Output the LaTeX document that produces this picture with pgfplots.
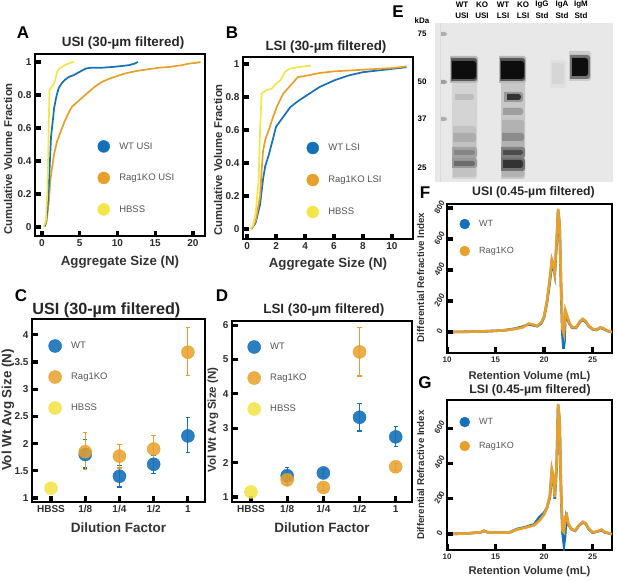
\documentclass[border=0pt]{standalone}
\usepackage{pgfplots}
\pgfplotsset{compat=1.18}
\usepackage{fontspec}
\setmainfont{Liberation Sans}
\definecolor{cblue}{RGB}{20,112,185}
\definecolor{corange}{RGB}{232,160,42}
\definecolor{cyellow}{RGB}{242,230,75}
\definecolor{tickgray}{RGB}{45,45,45}
\definecolor{leggray}{RGB}{85,85,85}
\pgfplotsset{
  panel/.style={
    scale only axis, anchor=south west,
    axis line style={line width=1.9pt, black},
    xtick pos=left, ytick pos=left, tick align=inside, major tick length=5pt,
    tick style={line width=3pt, black},
    ticklabel style={font=\bfseries\fontsize{10}{11}\selectfont, text=tickgray},
    every axis title/.style={anchor=center, font=\bfseries\fontsize{13.4}{15}\selectfont, text=black!85},
    every axis x label/.style={anchor=center, font=\bfseries\fontsize{13.3}{15}\selectfont, text=black!80},
    every axis y label/.style={anchor=center, rotate=90, font=\bfseries\fontsize{11.3}{13}\selectfont, text=black!80},
    legend cell align=left,
    legend style={draw=none, fill=none, anchor=west, inner sep=0pt, nodes={inner sep=0pt},
      font=\fontsize{9.5}{11}\selectfont, text=leggray,
      /tikz/every odd column/.append style={column sep=9.5pt}},
  },
  stub/.style={black, line width=3.2pt, forget plot, unbounded coords=jump},
}
\newcommand{\blob}[5]{\addplot[draw=none, fill=#5, rounded corners=2.5pt] coordinates {(#1,#3) (#2,#3) (#2,#4) (#1,#4)};}
\begin{document}
\begin{tikzpicture}
\path[use as bounding box] (0pt,0pt) rectangle (617pt,580pt);
% ---------------- A
\begin{axis}[panel, at={(35pt,344pt)}, width=170pt, height=182pt,
 xmin=-0.93, xmax=21.6, ymin=-0.055, ymax=1.048,
 xtick={0,5,10,15,20}, xticklabels={0,5,10,15,20},
 ytick={0,0.2,0.4,0.6,0.8,1}, yticklabels={0,0.2,0.4,0.6,0.8,1},
 title={USI (30-µm filtered)}, xlabel={Aggregate Size (N)}, ylabel={Cumulative Volume Fraction},
 title style={at={(rel axis cs:0.518,1.06)}},
 xlabel style={at={(rel axis cs:0.5,-0.143)}},
 ylabel style={at={(rel axis cs:-0.159,0.423)}},
 legend style={at={(0.368,0.319)}, row sep=19.5pt}]
\addlegendimage{only marks, mark=*, mark size=6pt, cblue, mark options={draw=none}}\addlegendentry{WT USI}
\addlegendimage{only marks, mark=*, mark size=6pt, corange, mark options={draw=none}}\addlegendentry{Rag1KO USI}
\addlegendimage{only marks, mark=*, mark size=6pt, cyellow, mark options={draw=none}}\addlegendentry{HBSS}
\addplot[corange, line width=1.7pt, forget plot] coordinates {
(0.3,0) (0.6,0.03) (0.9,0.15) (1.1,0.28) (1.3,0.35) (1.6,0.44) (2.0,0.52) (2.5,0.58) (3.0,0.64) (3.5,0.69) (4.0,0.73) (5.0,0.77) (6.0,0.81) (7.0,0.85) (8.0,0.88) (9.0,0.9) (10.0,0.915) (11.0,0.93) (12.5,0.945) (14,0.955) (15.5,0.965) (17,0.97) (18.5,0.98) (19.5,0.99) (20.5,0.995) (21,1.0)};
\addplot[cblue, line width=1.7pt, forget plot] coordinates {
(0.3,0) (0.5,0.02) (0.7,0.1) (0.9,0.25) (1.0,0.35) (1.1,0.45) (1.2,0.55) (1.4,0.63) (1.6,0.72) (1.9,0.79) (2.2,0.84) (2.6,0.87) (3.0,0.89) (3.6,0.91) (4.2,0.92) (5.0,0.94) (5.8,0.96) (6.5,0.965) (8,0.965) (9.5,0.97) (10.5,0.975) (11.5,0.98) (12.3,0.99) (12.7,1.0)};
\addplot[cyellow, line width=1.7pt, forget plot] coordinates {
(0.2,0) (0.5,0.03) (0.7,0.2) (0.85,0.5) (0.95,0.75) (1.0,0.83) (1.3,0.85) (1.6,0.87) (1.8,0.9) (2.0,0.94) (2.3,0.96) (2.7,0.97) (3.0,0.98) (3.5,0.99) (4.2,1.0)};
\addplot[stub] coordinates {(0,-0.055) (0,-0.022) (0,nan) (5,-0.055) (5,-0.022) (5,nan) (10,-0.055) (10,-0.022) (10,nan) (15,-0.055) (15,-0.022) (15,nan) (20,-0.055) (20,-0.022)};
\addplot[stub] coordinates {(-0.93,0) (-0.2,0) (nan,0) (-0.93,0.2) (-0.2,0.2) (nan,0.2) (-0.93,0.4) (-0.2,0.4) (nan,0.4) (-0.93,0.6) (-0.2,0.6) (nan,0.6) (-0.93,0.8) (-0.2,0.8) (nan,0.8) (-0.93,1) (-0.2,1)};
\end{axis}
% ---------------- B
\begin{axis}[panel, at={(243pt,341pt)}, width=170pt, height=182pt,
 xmin=-0.28, xmax=11.45, ymin=-0.06, ymax=1.042,
 xtick={0,2,4,6,8,10}, xticklabels={0,2,4,6,8,10},
 ytick={0,0.2,0.4,0.6,0.8,1}, yticklabels={0,0.2,0.4,0.6,0.8,1},
 title={LSI (30-µm filtered)}, xlabel={Aggregate Size (N)}, ylabel={Cumulative Volume Fraction},
 title style={at={(rel axis cs:0.488,1.055)}},
 xlabel style={at={(rel axis cs:0.5,-0.137)}},
 ylabel style={at={(rel axis cs:-0.147,0.434)}},
 legend style={at={(0.374,0.324)}, row sep=20pt}]
\addlegendimage{only marks, mark=*, mark size=6pt, cblue, mark options={draw=none}}\addlegendentry{WT LSI}
\addlegendimage{only marks, mark=*, mark size=6pt, corange, mark options={draw=none}}\addlegendentry{Rag1KO LSI}
\addlegendimage{only marks, mark=*, mark size=6pt, cyellow, mark options={draw=none}}\addlegendentry{HBSS}
\addplot[cblue, line width=1.7pt, forget plot] coordinates {
(0.3,0) (0.6,0.04) (0.9,0.15) (1.1,0.3) (1.25,0.38) (1.5,0.45) (1.8,0.55) (2.0,0.62) (2.5,0.68) (3.0,0.74) (3.6,0.78) (4.3,0.82) (5.0,0.86) (6.0,0.9) (7.0,0.93) (8.0,0.95) (9.0,0.96) (10,0.97) (11,0.98)};
\addplot[corange, line width=1.7pt, forget plot] coordinates {
(0.3,0) (0.6,0.05) (0.9,0.2) (1.0,0.35) (1.1,0.47) (1.25,0.54) (1.5,0.6) (1.8,0.68) (2.1,0.75) (2.5,0.82) (3.0,0.87) (3.5,0.92) (4.2,0.93) (5,0.945) (6,0.955) (7,0.96) (8,0.965) (9,0.97) (10,0.975) (11,0.985)};
\addplot[cyellow, line width=1.7pt, forget plot] coordinates {
(0.2,0) (0.4,0.02) (0.6,0.1) (0.8,0.3) (0.9,0.6) (1.0,0.82) (1.3,0.84) (1.7,0.85) (2.0,0.88) (2.3,0.9) (2.6,0.95) (2.9,0.97) (3.5,0.98) (4.4,0.99)};
\addplot[stub] coordinates {(0,-0.06) (0,-0.027) (0,nan) (2,-0.06) (2,-0.027) (2,nan) (4,-0.06) (4,-0.027) (4,nan) (6,-0.06) (6,-0.027) (6,nan) (8,-0.06) (8,-0.027) (8,nan) (10,-0.06) (10,-0.027)};
\addplot[stub] coordinates {(-0.28,0) (0.1,0) (nan,0) (-0.28,0.2) (0.1,0.2) (nan,0.2) (-0.28,0.4) (0.1,0.4) (nan,0.4) (-0.28,0.6) (0.1,0.6) (nan,0.6) (-0.28,0.8) (0.1,0.8) (nan,0.8) (-0.28,1) (0.1,1)};
\end{axis}
% ---------------- C
\begin{axis}[panel, at={(32pt,78pt)}, width=173pt, height=183pt,
 xmin=-0.555, xmax=4.5, ymin=0.926, ymax=4.29,
 xtick={0,1,2,3,4}, xticklabels={HBSS,1/8,1/4,1/2,1},
 ytick={1,1.5,2,2.5,3,3.5,4}, yticklabels={1,1.5,2,2.5,3,3.5,4},
 title={USI (30-µm filtered)}, xlabel={Dilution Factor}, ylabel={Vol Wt Avg Size (N)},
 title style={at={(rel axis cs:0.43,1.049)}, font=\bfseries\fontsize{16.2}{18}\selectfont},
 xlabel style={at={(rel axis cs:0.5,-0.142)}, font=\bfseries\fontsize{13.5}{15}\selectfont},
 ylabel style={at={(rel axis cs:-0.139,0.503)}, font=\bfseries\fontsize{13.4}{15}\selectfont},
 legend style={at={(0.095,0.683)}, row sep=18pt},
 error bars/error bar style={line width=1.2pt},
 error bars/error mark options={rotate=90, mark size=2.2pt, line width=1.2pt}]
\addplot[cblue, only marks, mark=*, mark size=6.5pt, mark options={draw=none, fill opacity=0.9},
 error bars/.cd, y dir=both, y explicit] coordinates {
 (1,1.80) += (0,0.27) -= (0,0.25)
 (2,1.40) += (0,0.20) -= (0,0.20)
 (3,1.62) += (0,0.16) -= (0,0.17)
 (4,2.14) += (0,0.34) -= (0,0.31)};
\addlegendentry{WT}
\addplot[corange, only marks, mark=*, mark size=6.5pt, mark options={draw=none, fill opacity=0.85},
 error bars/.cd, y dir=both, y explicit] coordinates {
 (1,1.85) += (0,0.35) -= (0,0.32)
 (2,1.77) += (0,0.21) -= (0,0.22)
 (3,1.90) += (0,0.25) -= (0,0.20)
 (4,3.68) += (0,0.45) -= (0,0.43)};
\addlegendentry{Rag1KO}
\addplot[cyellow, only marks, mark=*, mark size=6.5pt, mark options={draw=none, fill opacity=0.9}] coordinates {(0,1.18)};
\addlegendentry{HBSS}
\addplot[stub] coordinates {(0,0.926) (0,1.03) (0,nan) (1,0.926) (1,1.03) (1,nan) (2,0.926) (2,1.03) (2,nan) (3,0.926) (3,1.03) (3,nan) (4,0.926) (4,1.03)};
\addplot[stub] coordinates {(-0.555,1) (-0.39,1) (nan,1) (-0.555,1.5) (-0.39,1.5) (nan,1.5) (-0.555,2) (-0.39,2) (nan,2) (-0.555,2.5) (-0.39,2.5) (nan,2.5) (-0.555,3) (-0.39,3) (nan,3) (-0.555,3.5) (-0.39,3.5) (nan,3.5) (-0.555,4) (-0.39,4)};
\end{axis}
% ---------------- D
\begin{axis}[panel, at={(232pt,78pt)}, width=180pt, height=181pt,
 xmin=-0.525, xmax=4.45, ymin=0.855, ymax=6.12,
 xtick={0,1,2,3,4}, xticklabels={HBSS,1/8,1/4,1/2,1},
 ytick={1,2,3,4,5,6}, yticklabels={1,2,3,4,5,6},
 title={LSI (30-µm filtered)}, xlabel={Dilution Factor}, ylabel={Vol Wt Avg Size (N)},
 title style={at={(rel axis cs:0.51,1.061)}},
 xlabel style={at={(rel axis cs:0.5,-0.144)}, font=\bfseries\fontsize{13.5}{15}\selectfont},
 ylabel style={at={(rel axis cs:-0.106,0.453)}, font=\bfseries\fontsize{11.5}{13}\selectfont},
 legend style={at={(0.086,0.685)}, row sep=18pt},
 error bars/error bar style={line width=1.2pt},
 error bars/error mark options={rotate=90, mark size=2.2pt, line width=1.2pt}]
\addplot[cblue, only marks, mark=*, mark size=6.5pt, mark options={draw=none, fill opacity=0.9},
 error bars/.cd, y dir=both, y explicit] coordinates {
 (1,1.62) += (0,0.24) -= (0,0.17)
 (2,1.70) += (0,0.10) -= (0,0.10)
 (3,3.32) += (0,0.40) -= (0,0.40)
 (4,2.75) += (0,0.29) -= (0,0.27)};
\addlegendentry{WT}
\addplot[corange, only marks, mark=*, mark size=6.5pt, mark options={draw=none, fill opacity=0.85},
 error bars/.cd, y dir=both, y explicit] coordinates {
 (1,1.50) += (0,0.15) -= (0,0.15)
 (2,1.28) += (0,0.08) -= (0,0.08)
 (3,5.22) += (0,0.70) -= (0,0.70)
 (4,1.88) += (0,0.10) -= (0,0.10)};
\addlegendentry{Rag1KO}
\addplot[cyellow, only marks, mark=*, mark size=6.5pt, mark options={draw=none, fill opacity=0.9}] coordinates {(0,1.15)};
\addlegendentry{HBSS}
\addplot[stub] coordinates {(0,0.855) (0,1.02) (0,nan) (1,0.855) (1,1.02) (1,nan) (2,0.855) (2,1.02) (2,nan) (3,0.855) (3,1.02) (3,nan) (4,0.855) (4,1.02)};
\addplot[stub] coordinates {(-0.525,1) (-0.37,1) (nan,1) (-0.525,2) (-0.37,2) (nan,2) (-0.525,3) (-0.37,3) (nan,3) (-0.525,4) (-0.37,4) (nan,4) (-0.525,5) (-0.37,5) (nan,5) (-0.525,6) (-0.37,6)};
\end{axis}
% ---------------- E (blot)
\begin{axis}[scale only axis, anchor=south west, at={(435pt,398pt)}, width=178pt, height=159pt,
 xmin=435, xmax=613, ymin=23, ymax=182, y dir=reverse, hide axis]
\addplot[draw=none, fill=black!9] coordinates {(435,23) (613,23) (613,182) (435,182)};
\addplot[black!14, line width=1pt] coordinates {(440,23) (440,182)};
\blob{441}{447}{32}{36}{black!32}
\blob{441}{447}{80}{84}{black!38}
\blob{441}{447}{117}{121}{black!32}
\blob{452}{477}{79}{179}{black!17}
\blob{453}{476}{126}{177}{black!24}
\blob{455}{474}{94}{100}{black!26}
\blob{453}{476}{133}{142}{black!32}
\blob{452}{477}{147}{158}{black!36}
\blob{454}{475}{150}{155}{black!48}
\blob{452}{477}{158}{168}{black!40}
\blob{454}{475}{161}{166}{black!58}
\blob{450}{478}{56}{83}{black!28}
\blob{451}{477}{58}{81}{black!65}
\blob{452}{476}{61}{79}{black!95}
\blob{501}{525}{79}{179}{black!22}
\blob{502}{524}{120}{177}{black!30}
\blob{503}{523}{108}{115}{black!38}
\blob{504}{523}{92}{102}{black!40}
\blob{507}{521}{94}{100}{black!80}
\blob{502}{524}{133}{141}{black!45}
\blob{501}{525}{147}{158}{black!50}
\blob{503}{523}{150}{155}{black!70}
\blob{501}{525}{158}{171}{black!55}
\blob{503}{523}{160}{168}{black!80}
\blob{499}{526}{56}{83}{black!28}
\blob{500}{525}{58}{81}{black!65}
\blob{501}{524}{61}{79}{black!95}
\blob{550}{566}{60}{88}{black!12}
\blob{552}{564}{63}{84}{black!16}
\blob{569}{591}{51}{81}{black!20}
\blob{570}{590}{55}{79}{black!55}
\blob{572}{588}{58}{76}{black!95}
\end{axis}
% ---------------- F
\begin{axis}[panel, at={(447pt,227pt)}, width=165pt, height=149pt,
 xmin=10, xmax=27, ymin=-135, ymax=826,
 xtick={10,15,20,25}, xticklabels={10,15,20,25},
 ytick={0,200,400,600,800}, yticklabels={0,200,400,600,800},
 ticklabel style={font=\bfseries\fontsize{8}{9}\selectfont},
 yticklabel style={xshift=-2pt, yshift=-2pt, rotate=60, anchor=south},
 title={USI (0.45-µm filtered)}, xlabel={Retention Volume (mL)}, ylabel={Differential Refractive Index},
 title style={at={(rel axis cs:0.524,1.08)}, font=\bfseries\fontsize{12.3}{14}\selectfont},
 xlabel style={at={(rel axis cs:0.5,-0.161)}, font=\bfseries\fontsize{11.2}{13}\selectfont},
 ylabel style={at={(rel axis cs:-0.16,0.507)}, font=\bfseries\fontsize{9.8}{11}\selectfont},
 legend style={at={(0.076,0.775)}, row sep=17pt, font=\fontsize{9}{10}\selectfont}]
\addlegendimage{only marks, mark=*, mark size=5pt, cblue, mark options={draw=none}}\addlegendentry{WT}
\addlegendimage{only marks, mark=*, mark size=5pt, corange, mark options={draw=none}}\addlegendentry{Rag1KO}
\addplot[cblue, line width=2.6pt, forget plot] coordinates {
(10,0) (12,2) (14,5) (15,8) (16,12) (17,22) (17.8,35) (18.4,50) (18.8,45) (19.3,38) (19.7,55) (20.0,95) (20.3,190) (20.6,330) (20.8,450) (20.95,420) (21.1,370) (21.3,580) (21.45,780) (21.6,690) (21.75,290) (21.88,0) (22.0,-108) (22.1,-60) (22.2,118) (22.4,90) (22.6,55) (22.9,28) (23.3,28) (23.7,65) (24.0,80) (24.3,65) (24.6,38) (25.0,18) (25.4,14) (25.8,28) (26.1,22) (26.5,8) (27,0)};
\addplot[corange, line width=2.6pt, forget plot] coordinates {
(10,0) (12,2) (14,5) (15,8) (16,12) (17,20) (17.8,30) (18.4,55) (18.8,50) (19.3,40) (19.7,60) (20.0,100) (20.3,200) (20.6,350) (20.8,470) (20.95,440) (21.1,380) (21.3,600) (21.45,795) (21.6,700) (21.75,300) (21.9,20) (22.05,-15) (22.2,140) (22.4,100) (22.6,60) (22.9,30) (23.3,30) (23.7,70) (24.0,85) (24.3,70) (24.6,40) (25.0,20) (25.4,15) (25.8,30) (26.1,25) (26.5,10) (27,0)};
\addplot[stub] coordinates {(10,-135) (10,-98) (10,nan) (15,-135) (15,-98) (15,nan) (20,-135) (20,-98) (20,nan) (25,-135) (25,-98)};
\addplot[stub] coordinates {(10,0) (10.6,0) (nan,0) (10,200) (10.6,200) (nan,200) (10,400) (10.6,400) (nan,400) (10,600) (10.6,600) (nan,600) (10,800) (10.6,800)};
\end{axis}
% ---------------- G
\begin{axis}[panel, at={(447pt,30pt)}, width=165pt, height=150pt,
 xmin=10, xmax=27, ymin=-91, ymax=762,
 xtick={10,15,20,25}, xticklabels={10,15,20,25},
 ytick={0,200,400,600}, yticklabels={0,200,400,600},
 ticklabel style={font=\bfseries\fontsize{8}{9}\selectfont},
 yticklabel style={xshift=-2pt, yshift=-2pt, rotate=60, anchor=south},
 title={LSI (0.45-µm filtered)}, xlabel={Retention Volume (mL)}, ylabel={Differential Refractive Index},
 title style={at={(rel axis cs:0.503,1.067)}, font=\bfseries\fontsize{12.3}{14}\selectfont},
 xlabel style={at={(rel axis cs:0.5,-0.147)}, font=\bfseries\fontsize{11.2}{13}\selectfont},
 ylabel style={at={(rel axis cs:-0.16,0.5)}, font=\bfseries\fontsize{9.8}{11}\selectfont},
 legend style={at={(0.076,0.773)}, row sep=14pt, font=\fontsize{9}{10}\selectfont}]
\addlegendimage{only marks, mark=*, mark size=5pt, cblue, mark options={draw=none}}\addlegendentry{WT}
\addlegendimage{only marks, mark=*, mark size=5pt, corange, mark options={draw=none}}\addlegendentry{Rag1KO}
\addplot[cblue, line width=2.6pt, forget plot] coordinates {
(10,0) (12,3) (13.5,10) (13.8,18) (14.2,10) (15,8) (16,8) (16.5,10) (17.2,28) (18,38) (19,55) (19.5,95) (20,120) (20.3,150) (20.6,210) (20.8,355) (20.95,320) (21.1,200) (21.3,390) (21.45,730) (21.6,640) (21.75,240) (21.9,10) (22.05,-62) (22.15,-20) (22.3,95) (22.5,55) (22.8,28) (23.2,18) (23.6,48) (24.0,66) (24.3,58) (24.6,28) (25.0,8) (25.5,14) (25.9,22) (26.3,8) (27,0)};
\addplot[corange, line width=2.6pt, forget plot] coordinates {
(10,0) (12,3) (13.5,10) (13.8,20) (14.2,10) (15,8) (16,8) (16.5,10) (17.2,25) (18,35) (19,50) (19.5,75) (20,110) (20.3,150) (20.6,220) (20.8,370) (20.95,330) (21.1,210) (21.3,400) (21.45,740) (21.6,650) (21.75,250) (21.9,20) (22.05,10) (22.2,100) (22.35,110) (22.5,60) (22.8,30) (23.2,20) (23.6,50) (24.0,70) (24.3,60) (24.6,30) (25.0,10) (25.5,15) (25.9,25) (26.3,10) (27,0)};
\addplot[stub] coordinates {(10,-91) (10,-58) (10,nan) (15,-91) (15,-58) (15,nan) (20,-91) (20,-58) (20,nan) (25,-91) (25,-58)};
\addplot[stub] coordinates {(10,0) (10.6,0) (nan,0) (10,200) (10.6,200) (nan,200) (10,400) (10.6,400) (nan,400) (10,600) (10.6,600)};
\end{axis}
\begin{scope}[every node/.style={font=\bfseries\fontsize{17}{17}\selectfont}]
\node at (23pt,547pt) {A};
\node at (232pt,547pt) {B};
\node at (21pt,284pt) {C};
\node at (222pt,284pt) {D};
\node at (398pt,568pt) {E};
\node at (425pt,387pt) {F};
\node at (425pt,197pt) {G};
\end{scope}
\begin{scope}[every node/.style={font=\bfseries\fontsize{8}{9}\selectfont, inner sep=0pt}]
\node at (462pt,575pt) {WT}; \node at (462pt,564pt) {USI};
\node at (482pt,575pt) {KO}; \node at (482pt,564pt) {USI};
\node at (503pt,575pt) {WT}; \node at (503pt,564pt) {LSI};
\node at (523pt,575pt) {KO}; \node at (523pt,564pt) {LSI};
\node at (542pt,575pt) {IgG}; \node at (542pt,564pt) {Std};
\node at (562pt,575pt) {IgA}; \node at (562pt,564pt) {Std};
\node at (581pt,575pt) {IgM}; \node at (581pt,564pt) {Std};
\node at (422pt,559pt) {kDa};
\node at (422pt,546pt) {75};
\node at (422pt,498pt) {50};
\node at (422pt,461pt) {37};
\node at (422pt,412pt) {25};
\end{scope}
\end{tikzpicture}
\end{document}
